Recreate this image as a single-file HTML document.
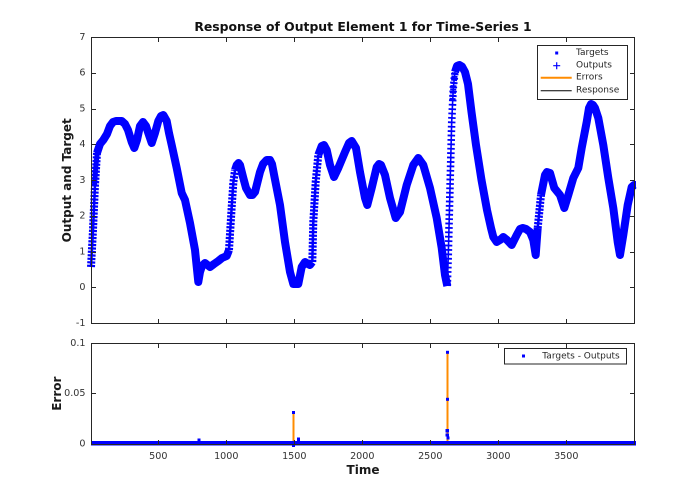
<!DOCTYPE html>
<html><head><meta charset="utf-8"><style>
html,body{margin:0;padding:0;background:#fff;}
svg{display:block;}
text{font-family:"DejaVu Sans","Liberation Sans",sans-serif;}
.tk{font-size:9.6px;fill:#333;}
.lb{font-size:12px;font-weight:bold;fill:#1a1a1a;}
.lg{font-size:9px;fill:#262626;}
</style></head><body>
<svg width="700" height="500" viewBox="0 0 700 500" xmlns="http://www.w3.org/2000/svg">
<rect width="700" height="500" fill="#fff"/>

<!-- Title -->
<text x="363" y="31" text-anchor="middle" style="font-size:12.4px;font-weight:bold;fill:#111">Response of Output Element 1 for Time-Series 1</text>

<!-- TOP AXES -->
<g fill="none" stroke="#0000ff" stroke-linejoin="round" stroke-linecap="butt">
  <!-- solid segments -->
  <polyline stroke-width="8" points="97,153 100,144 103.3,140 107,134 110,126 113,122 116,121 121.7,121 125,124 128,130 131.7,142 134.3,148 137,140 140,126 143,122 146,126 148.3,133 151.7,143 155,133 158.3,121 161,116 163.3,115 166.7,121 169,133 171.7,145 176.7,168 181.7,193 185,200 190,223 195,250 198.3,282 200,272 202,266 205,263 210,267 214,264 218.3,261 222,258 226.7,256 229,250"/>
  <polyline stroke-width="8" points="235,170 236.7,165 238.5,163 240,165 243.3,178 246,188 250,195 252.5,195 255,192 258,180 260,172 263,164 266.7,160 270,160 272,164 274.3,176 280,205 285,242 290,272 293.3,284 296,284 298.3,284 301.7,267 305,262 308,264 310,265 312.3,262"/>
  <polyline stroke-width="8" points="318.3,155 321.7,146 324,145 326.7,150 330,165 334,177 338.3,168 345,152 349,143 351.7,141 356,148 360,172 365,198 367.3,205 371.7,188 376.7,167 379,164 381,165 385,175 390,198 395.7,218 400,212 406.7,185 413.3,165 418.3,158 423.3,165 430,188 436.7,218 441.7,248 445,275 447.3,286"/>
  <polyline stroke-width="8" points="455,72 457,66 459.5,65 462,66.5 465,72 468,84 471.5,112 476,145 481.5,180 487,210 491,228 493.3,237 496.7,242 500,240 503.3,237 507,240 511.7,245 516.7,235 520,229 522.7,228 526,229 530,232 533.3,240 535.7,255 537.7,228"/>
  <polyline stroke-width="8" points="541,195 545,175 547,172 550,173 554.3,188 560,195 564.3,208 568.3,195 573.3,178 578.3,168 581.7,148 586.7,122 589,108 591,104 593,105 595,108 598.3,118 603.3,145 608.3,178 613.3,208 617.7,242 620,255 623.3,235 627.7,205 631.7,187 634,185 636,185"/>
  <!-- steep segments: thin core + dashed marker bars -->
  <polyline stroke-width="2.5" points="91,267 93,230 95,185 97,153"/>
  <polyline stroke-width="8" stroke-dasharray="2.2 1.3" points="91,267 93,230 95,185 97,153"/>
  <polyline stroke-width="5" points="94.5,185 96,165 97.5,150"/>
  <polyline stroke-width="2.5" points="229,250 231.7,207 233.3,183 235,170"/>
  <polyline stroke-width="8" stroke-dasharray="2.2 1.4" points="229,250 231.7,207 233.3,183 235,170"/>
  <polyline stroke-width="2.5" points="312.3,262 313.3,222 315.7,182 318.3,155"/>
  <polyline stroke-width="8" stroke-dasharray="2.2 1.4" points="312.3,262 313.3,222 315.7,182 318.3,155"/>
  <polyline stroke-width="1.6" points="447.3,286 448.3,255 450,188 451.7,122 453.3,88 455,72"/>
  <polyline stroke-width="7.5" stroke-dasharray="1.8 2.6" points="447.3,286 448.3,255 450,188 451.7,122 453.3,88 455,72"/>
  <polyline stroke-width="6" stroke-dasharray="2 1.2" points="452.5,100 453.5,85 455,72"/>
  <polyline stroke-width="2.5" points="537.7,228 539.5,210 541,195"/>
  <polyline stroke-width="8" stroke-dasharray="2.2 1.3" points="537.7,228 539.5,210 541,195"/>
</g>

<!-- top axes box -->
<g stroke="#262626" stroke-width="1" fill="none" shape-rendering="crispEdges">
  <rect x="91.5" y="37.5" width="543" height="286"/>
  <path d="M158.5 37.5v4.5M226.5 37.5v4.5M294.5 37.5v4.5M362.5 37.5v4.5M430.5 37.5v4.5M498.5 37.5v4.5M566.5 37.5v4.5
           M158.5 323.5v-4.5M226.5 323.5v-4.5M294.5 323.5v-4.5M362.5 323.5v-4.5M430.5 323.5v-4.5M498.5 323.5v-4.5M566.5 323.5v-4.5
           M91.5 73.5h4.5M91.5 109.5h4.5M91.5 144.5h4.5M91.5 180.5h4.5M91.5 216.5h4.5M91.5 252.5h4.5M91.5 287.5h4.5
           M634.5 73.5h-4.5M634.5 109.5h-4.5M634.5 144.5h-4.5M634.5 180.5h-4.5M634.5 216.5h-4.5M634.5 252.5h-4.5M634.5 287.5h-4.5"/>
</g>
<g class="tk" text-anchor="end" dominant-baseline="central">
  <text x="85.5" y="37.3">7</text>
  <text x="85.5" y="73">6</text>
  <text x="85.5" y="108.8">5</text>
  <text x="85.5" y="144.5">4</text>
  <text x="85.5" y="180.3">3</text>
  <text x="85.5" y="216">2</text>
  <text x="85.5" y="251.8">1</text>
  <text x="85.5" y="287.5">0</text>
  <text x="85.5" y="323.3">-1</text>
</g>
<text class="lb" transform="translate(71,180.3) rotate(-90)" text-anchor="middle">Output and Target</text>

<!-- top legend -->
<rect x="537.5" y="45.5" width="90" height="54" fill="#fff" stroke="#262626" stroke-width="1" shape-rendering="crispEdges"/>
<rect x="555.2" y="51.5" width="3" height="3" fill="#0000ff"/>
<path d="M556.7 62.2v7M553.2 65.7h7" stroke="#0000ff" stroke-width="1.2"/>
<line x1="540.7" y1="77.7" x2="571.7" y2="77.7" stroke="#ff8c00" stroke-width="2"/>
<line x1="540.7" y1="90.7" x2="571.7" y2="90.7" stroke="#000" stroke-width="1"/>
<g class="lg" dominant-baseline="central">
  <text x="576" y="53">Targets</text>
  <text x="576" y="65.7">Outputs</text>
  <text x="576" y="77.7">Errors</text>
  <text x="576" y="90.7">Response</text>
</g>

<!-- BOTTOM AXES -->
<line x1="293.5" y1="444" x2="293.5" y2="413" stroke="#ff8c00" stroke-width="2"/>
<line x1="447.5" y1="444" x2="447.5" y2="352.5" stroke="#ff8c00" stroke-width="2"/>
<g fill="#0000ff">
  <rect x="91" y="441" width="545" height="4.5"/>
  <rect x="292" y="411" width="3" height="3"/>
  <rect x="297" y="437.5" width="3" height="5"/>
  <rect x="197.5" y="438.5" width="3" height="4"/>
  <rect x="446" y="350.8" width="3" height="3"/>
  <rect x="446" y="397.8" width="3" height="3"/>
  <rect x="445.5" y="429" width="3.5" height="3.5"/>
  <rect x="445.5" y="433.5" width="3.5" height="3"/>
  <rect x="446.5" y="436.5" width="3" height="3"/>
  <rect x="292" y="444" width="3" height="3"/>
</g>
<line x1="93" y1="444.5" x2="634" y2="444.5" stroke="#fff" stroke-width="0.8" stroke-dasharray="2 9 3 14 2 7"/>

<g stroke="#262626" stroke-width="1" fill="none" shape-rendering="crispEdges">
  <rect x="91.5" y="343.5" width="543" height="101"/>
  <path d="M158.5 343.5v4.5M226.5 343.5v4.5M294.5 343.5v4.5M362.5 343.5v4.5M430.5 343.5v4.5M498.5 343.5v4.5M566.5 343.5v4.5
           M158.5 444.5v-4.5M226.5 444.5v-4.5M294.5 444.5v-4.5M362.5 444.5v-4.5M430.5 444.5v-4.5M498.5 444.5v-4.5M566.5 444.5v-4.5
           M91.5 393.5h4.5M634.5 393.5h-4.5"/>
</g>
<g class="tk" text-anchor="end" dominant-baseline="central">
  <text x="85.5" y="343.3">0.1</text>
  <text x="85.5" y="393.7">0.05</text>
  <text x="85.5" y="444">0</text>
</g>
<g class="tk" text-anchor="middle">
  <text x="158.3" y="459">500</text>
  <text x="226.3" y="459">1000</text>
  <text x="294.3" y="459">1500</text>
  <text x="362.3" y="459">2000</text>
  <text x="430.3" y="459">2500</text>
  <text x="498.3" y="459">3000</text>
  <text x="566.3" y="459">3500</text>
</g>
<text class="lb" x="363" y="474" text-anchor="middle">Time</text>
<text class="lb" transform="translate(61,393.7) rotate(-90)" text-anchor="middle">Error</text>

<!-- bottom legend -->
<rect x="504.5" y="348.5" width="122" height="15.5" fill="#fff" stroke="#262626" stroke-width="1" shape-rendering="crispEdges"/>
<rect x="522" y="354.5" width="3" height="3" fill="#0000ff"/>
<text class="lg" x="542.3" y="356.3" dominant-baseline="central">Targets - Outputs</text>
</svg>
</body></html>
